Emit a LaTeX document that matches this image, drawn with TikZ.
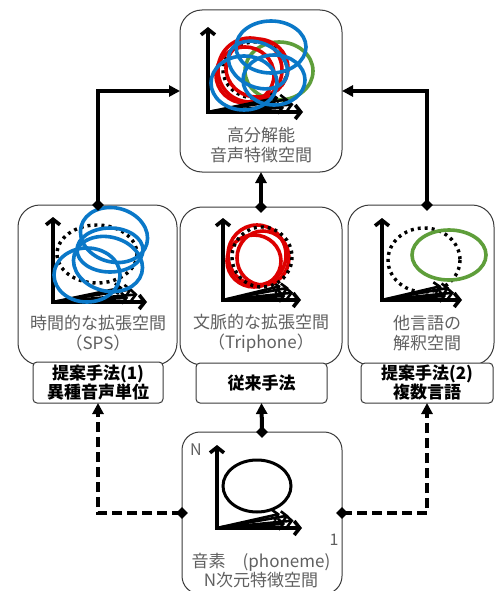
\documentclass[tikz,border=0pt]{standalone}
\usepackage{fontspec}
\setmainfont{Noto Sans CJK JP}
\usetikzlibrary{arrows.meta,shapes.geometric}
\definecolor{myred}{HTML}{DD0000}
\definecolor{myblue}{HTML}{0A78C8}
\definecolor{mygreen}{HTML}{5E9E3A}
\definecolor{txtgray}{HTML}{606060}
\definecolor{boxline}{HTML}{3A3A3A}
\newcommand\myaxes[4]{%
  \draw[axisline] (#1,{#2-#4}) -- (#1,#2) -- ({#1+#3},#2);
  \draw[axisthin] (#1,#2) -- ({#1+0.84*#3},{#2-0.15*#4});
  \draw[axisthin] (#1,#2) -- ({#1+0.74*#3},{#2-0.17*#4});
  \draw[axisthin] (#1,#2) -- ({#1+0.9*#3},{#2-0.09*#4});
  \draw[axisthin] (#1,#2) -- ({#1+0.8*#3},{#2-0.05*#4});
}
\begin{document}
\begin{tikzpicture}[x=1pt,y=-1pt,
  bigbox/.style={draw=boxline,line width=1pt,fill=white,rounded corners=22pt,inner sep=0pt,outer sep=0pt,anchor=north west},
  labbox/.style={draw=boxline,line width=1pt,fill=white,rounded corners=4pt,inner sep=0pt,outer sep=0pt,anchor=north west,align=center,font=\fontsize{17}{18}\selectfont\bfseries},
  graytxt/.style={text=txtgray,align=center,font=\fontsize{17}{20}\selectfont,inner sep=0pt},
  axisline/.style={line width=3.6pt,line join=miter,{Straight Barb[length=5.5pt,width=14pt]}-{Straight Barb[length=5.5pt,width=14pt]}},
  axisthin/.style={line width=2.6pt,-{Straight Barb[length=5pt,width=11pt]}},
  conn/.style={line width=4pt,-{Triangle[length=11pt,width=11pt]}},
  dconn/.style={conn,dash pattern=on 10pt off 5pt},
  dmd/.style={diamond,fill=black,inner sep=0pt,minimum size=12pt},
  ell/.style={line width=3.6pt},
  dots/.style={line width=3.4pt,dash pattern=on 3pt off 4pt}
]
\useasboundingbox (0,0) rectangle (496,591);

% main boxes
\node[bigbox,minimum width=162pt,minimum height=162pt] (top) at (180,10) {};
\node[bigbox,minimum width=159pt,minimum height=160pt] (lbox) at (18,205) {};
\node[bigbox,minimum width=162pt,minimum height=158pt] (cbox) at (180,207) {};
\node[bigbox,minimum width=146pt,minimum height=160pt] (rbox) at (348,205) {};
\node[bigbox,minimum width=160pt,minimum height=162pt,rounded corners=18pt] (bbox) at (182,432) {};

% top plot
\draw[dots] (255,70) ellipse [x radius=32, y radius=28];
\draw[ell,mygreen] (279,71) ellipse [x radius=34, y radius=29];
\draw[ell,myred] (250,70) ellipse [x radius=32, y radius=32];
\draw[ell,myred] (257,68) ellipse [x radius=31, y radius=29];
\draw[ell,myred] (245,75) ellipse [x radius=29, y radius=28];
\myaxes{208}{112}{95}{85}
\draw[ell,myblue] (271,47) ellipse [x radius=35, y radius=26];
\draw[ell,myblue] (258,65) ellipse [x radius=31, y radius=22, rotate=-25];
\draw[ell,myblue] (244,83) ellipse [x radius=33, y radius=27];
\draw[ell,myblue] (274,80) ellipse [x radius=31, y radius=25];
\node[graytxt] (toptxt) at (261,145) {高分解能\\音声特徴空間};

% left plot
\myaxes{53}{302}{94}{85}
\draw[dots] (97,254) ellipse [x radius=40, y radius=29];
\draw[ell,myblue] (114,235) ellipse [x radius=34, y radius=27, rotate=-15];
\draw[ell,myblue] (110,250) ellipse [x radius=33, y radius=22];
\draw[ell,myblue] (108,264) ellipse [x radius=35, y radius=27, rotate=-15];
\draw[ell,myblue] (87,275) ellipse [x radius=33, y radius=27];
\node[graytxt] (ltxt) at (98,333) {時間的な拡張空間\\（SPS）};

% center plot
\myaxes{223}{300}{78}{82}
\draw[ell,myred] (257,255) ellipse [x radius=29, y radius=30];
\draw[ell,myred] (263,258) ellipse [x radius=26, y radius=27];
\draw[ell,myred] (254,261) ellipse [x radius=27, y radius=26];
\draw[dots] (262,257) ellipse [x radius=30, y radius=30];
\node[graytxt] (ctxt) at (261,333) {文脈的な拡張空間\\（Triphone）};

% right plot
\myaxes{382}{300}{80}{82}
\draw[dots] (424,260) ellipse [x radius=36, y radius=32];
\draw[ell,mygreen] (449,255) ellipse [x radius=37, y radius=25];
\node[graytxt] (rtxt) at (427,333) {他言語の\\解釈空間};

% bottom plot
\myaxes{217}{528}{85}{83}
\draw[line width=3pt] (257,486) ellipse [x radius=34, y radius=26];
\node[text=txtgray,font=\fontsize{16}{18}\selectfont,inner sep=0pt] (nlab) at (196,450) {N};
\node[text=txtgray,font=\fontsize{16}{18}\selectfont,inner sep=0pt] (onelab) at (334,540) {1};
\node[graytxt,font=\fontsize{17}{19}\selectfont] (btxt) at (261,571) {音素　(phoneme)\\N次元特徴空間};

% label boxes
\node[labbox,minimum width=130pt,minimum height=41pt] (llab) at (33,362) {提案手法(1)\\異種音声単位};
\node[labbox,minimum width=131pt,minimum height=40pt] (clab) at (196,363) {従来手法};
\node[labbox,minimum width=132pt,minimum height=40pt] (rlab) at (361,363) {提案手法(2)\\複数言語};

% diamonds
\node[dmd] (dL) at (lbox.north -| llab.south) {};
\node[dmd] (dR) at (rbox.north -| rlab.south) {};
\node[dmd] (dC) at (cbox.north) {};
\node[dmd] (dB) at (bbox.north) {};
\node[dmd] (dBL) at (bbox.west) {};
\node[dmd] (dBR) at (bbox.east) {};

% connectors
\draw[conn] (dL.center) |- (top.west);
\draw[conn] (dR.center) |- (top.east);
\draw[conn] (dC.center) -- (top.south);
\draw[conn] (dB.center) -- (clab.south);
\draw[dconn] (dBL.center) -| (llab.south);
\draw[dconn] (dBR.center) -| (rlab.south);
\end{tikzpicture}
\end{document}
